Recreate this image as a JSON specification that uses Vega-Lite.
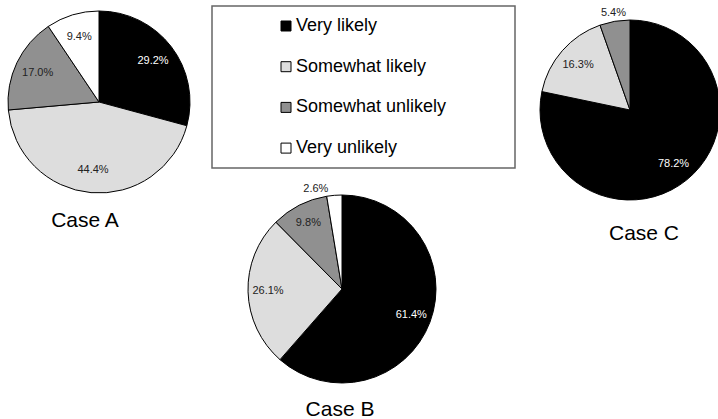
{
  "$schema": "https://vega.github.io/schema/vega-lite/v6.json",
  "autosize": {"type": "pad"},
  "padding": {"left": 0, "top": 5, "right": 0, "bottom": 0},
  "data": {"values": [
    {"case": "A", "response": "Very likely", "rank": 1, "pct": 0.292},
    {"case": "A", "response": "Somewhat likely", "rank": 2, "pct": 0.444},
    {"case": "A", "response": "Somewhat unlikely", "rank": 3, "pct": 0.170},
    {"case": "A", "response": "Very unlikely", "rank": 4, "pct": 0.094},
    {"case": "B", "response": "Very likely", "rank": 1, "pct": 0.614},
    {"case": "B", "response": "Somewhat likely", "rank": 2, "pct": 0.261},
    {"case": "B", "response": "Somewhat unlikely", "rank": 3, "pct": 0.098},
    {"case": "B", "response": "Very unlikely", "rank": 4, "pct": 0.026},
    {"case": "C", "response": "Very likely", "rank": 1, "pct": 0.782},
    {"case": "C", "response": "Somewhat likely", "rank": 2, "pct": 0.163},
    {"case": "C", "response": "Somewhat unlikely", "rank": 3, "pct": 0.054}
  ]},
  "bounds": "full",
  "spacing": 22,
  "hconcat": [
    {
      "bounds": "flush",
      "spacing": 14,
      "hconcat": [
        {
          "width": 198, "height": 192,
          "title": {"text": "Case A", "orient": "bottom", "baseline": "middle", "offset": 23, "dx": -14},
          "transform": [{"filter": "datum.case == 'A'"}],
          "encoding": {
            "theta": {"field": "pct", "type": "quantitative", "stack": "normalize"},
            "order": {"field": "rank", "type": "quantitative"}
          },
          "layer": [
            {"mark": {"type": "arc", "radius": 91, "stroke": "black", "strokeWidth": 1},
             "encoding": {"color": {"field": "response", "type": "nominal", "scale": {"domain": ["Very likely", "Somewhat likely", "Somewhat unlikely", "Very unlikely"], "range": ["#000000", "#dddddd", "#909090", "#ffffff"]}, "legend": {"title": null}}}},
            {"mark": {"type": "text", "radius": 68},
             "encoding": {
               "text": {"field": "pct", "type": "quantitative", "format": ".1%"},
               "color": {"condition": {"test": "datum.response == 'Very likely'", "value": "#ffffff"}, "value": "#222222"}
             }}
          ]
        },
        {
          "bounds": "flush",
          "spacing": 21,
          "vconcat": [
            {
              "width": 303, "height": 162,
              "view": {"stroke": "#666666", "strokeWidth": 1.5},
              "data": {"values": [{}]},
              "mark": {"type": "text", "text": ""},
              "encoding": {}
            },
            {
              "width": 260, "height": 200,
              "title": {"text": "Case B", "orient": "bottom", "baseline": "middle", "offset": 21, "dx": -2},
              "transform": [{"filter": "datum.case == 'B'"}],
              "encoding": {
                "theta": {"field": "pct", "type": "quantitative", "stack": "normalize"},
                "order": {"field": "rank", "type": "quantitative"}
              },
              "layer": [
                {"mark": {"type": "arc", "radius": 94, "stroke": "black", "strokeWidth": 1},
                 "encoding": {"color": {"field": "response", "type": "nominal", "scale": {"domain": ["Very likely", "Somewhat likely", "Somewhat unlikely", "Very unlikely"], "range": ["#000000", "#dddddd", "#909090", "#ffffff"]}, "legend": {"title": null}}}},
                {"mark": {"type": "text", "radius": 74},
                 "encoding": {
                   "text": {"condition": {"test": "datum.pct < 0.05", "value": ""}, "field": "pct", "type": "quantitative", "format": ".1%"},
                   "color": {"condition": {"test": "datum.response == 'Very likely'", "value": "#ffffff"}, "value": "#222222"}
                 }},
                {"mark": {"type": "text", "radius": 100, "dx": -18},
                 "encoding": {
                   "text": {"condition": {"test": "datum.pct >= 0.05", "value": ""}, "field": "pct", "type": "quantitative", "format": ".1%"},
                   "color": {"value": "#222222"}
                 }}
              ]
            }
          ]
        }
      ]
    },
    {
      "width": 180, "height": 208,
      "title": {"text": "Case C", "orient": "bottom", "baseline": "middle", "offset": 20, "dx": 14},
      "transform": [{"filter": "datum.case == 'C'"}],
      "encoding": {
        "theta": {"field": "pct", "type": "quantitative", "stack": "normalize"},
        "order": {"field": "rank", "type": "quantitative"}
      },
      "layer": [
        {"mark": {"type": "arc", "radius": 90, "stroke": "black", "strokeWidth": 1},
         "encoding": {"color": {"field": "response", "type": "nominal", "scale": {"domain": ["Very likely", "Somewhat likely", "Somewhat unlikely", "Very unlikely"], "range": ["#000000", "#dddddd", "#909090", "#ffffff"]}, "legend": {"title": null}}}},
        {"mark": {"type": "text", "radius": 69},
         "encoding": {
           "text": {"condition": {"test": "datum.pct < 0.08", "value": ""}, "field": "pct", "type": "quantitative", "format": ".1%"},
           "color": {"condition": {"test": "datum.response == 'Very likely'", "value": "#ffffff"}, "value": "#222222"}
         }},
        {"mark": {"type": "text", "radius": 98},
         "encoding": {
           "text": {"condition": {"test": "datum.pct >= 0.08", "value": ""}, "field": "pct", "type": "quantitative", "format": ".1%"},
           "color": {"value": "#222222"}
         }}
      ]
    }
  ],
  "config": {
    "view": {"stroke": null},
    "font": "Liberation Sans",
    "title": {"font": "Liberation Sans", "fontSize": 21, "fontWeight": "normal", "color": "#000000"},
    "text": {"font": "Liberation Sans", "fontSize": 11},
    "legend": {
      "orient": "none", "legendX": 277, "legendY": 11, "padding": 0,
      "symbolType": "square", "symbolSize": 100, "symbolStrokeColor": "#000000", "symbolStrokeWidth": 1,
      "labelFont": "Liberation Sans", "labelFontSize": 18, "labelColor": "#000000", "labelOffset": 1,
      "rowPadding": 22.7, "labelLimit": 400
    }
  }
}
